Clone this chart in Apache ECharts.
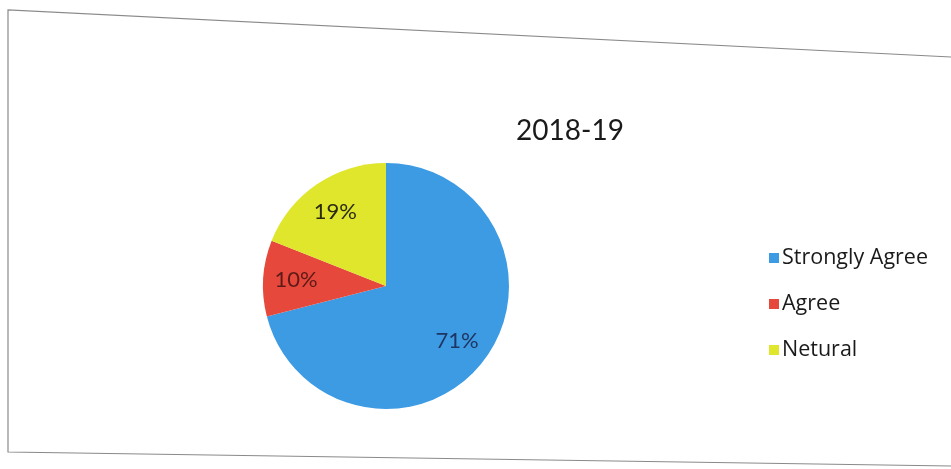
<!DOCTYPE html>
<html><head><meta charset="utf-8">
<script src="https://cdn.jsdelivr.net/npm/echarts@6/dist/echarts.min.js"></script>
<style>html,body{margin:0;padding:0;background:#fff}#c{width:951px;height:469px}</style>
</head><body><div id="c"></div>
<script>
const title = '2018-19';
const categories = ['Strongly Agree', 'Agree', 'Netural'];
const values = [71, 10, 19];
const colors = ['#3d9be3', '#e6493b', '#dfe62c'];
const labelColors = ['#1f3563', '#5e1a18', '#2b2b12'];

const chart = echarts.init(document.getElementById('c'));
const font = 'Lato, "Open Sans", sans-serif';
chart.setOption({
  animation: false,
  backgroundColor: '#fff',
  color: colors,
  title: {
    text: title, left: 565, top: 112, textAlign: 'center',
    textStyle: {fontFamily: font, fontSize: 28, fontWeight: 'normal', color: '#1a1a1a'}
  },
  legend: {
    orient: 'vertical', left: 764, top: 242,
    data: categories, icon: 'rect', itemWidth: 10, itemHeight: 10, itemGap: 24,
    textStyle: {fontFamily: '"Open Sans", sans-serif', fontSize: 21.5, color: '#1a1a1a', lineHeight: 22, padding: [0, 0, 0, -2]}
  },
  graphic: [{
    type: 'polyline', silent: true,
    shape: {points: [[951, 57], [8, 10], [8, 452], [951, 466]]},
    style: {stroke: '#8a8a8a', lineWidth: 1.2, fill: null}
  }],
  series: [{
    type: 'pie', center: [386, 286], radius: [0, 123],
    startAngle: 90, clockwise: true, silent: true,
    label: {show: false}, labelLine: {show: false},
    itemStyle: {borderWidth: 0},
    data: categories.map((n, i) => ({name: n, value: values[i]}))
  }, {
    type: 'pie', center: [386, 286], radius: [51, 123],
    startAngle: 90, clockwise: true, silent: true, legendHoverLink: false,
    itemStyle: {color: 'rgba(0,0,0,0)', borderWidth: 0},
    label: {show: true, position: 'inside', formatter: '{d}%',
      fontFamily: font, fontSize: 22, fontWeight: 'normal'},
    labelLine: {show: false},
    data: categories.map((n, i) => ({name: n + ' ', value: values[i],
      label: {color: labelColors[i]}}))
  }]
});
</script></body></html>
